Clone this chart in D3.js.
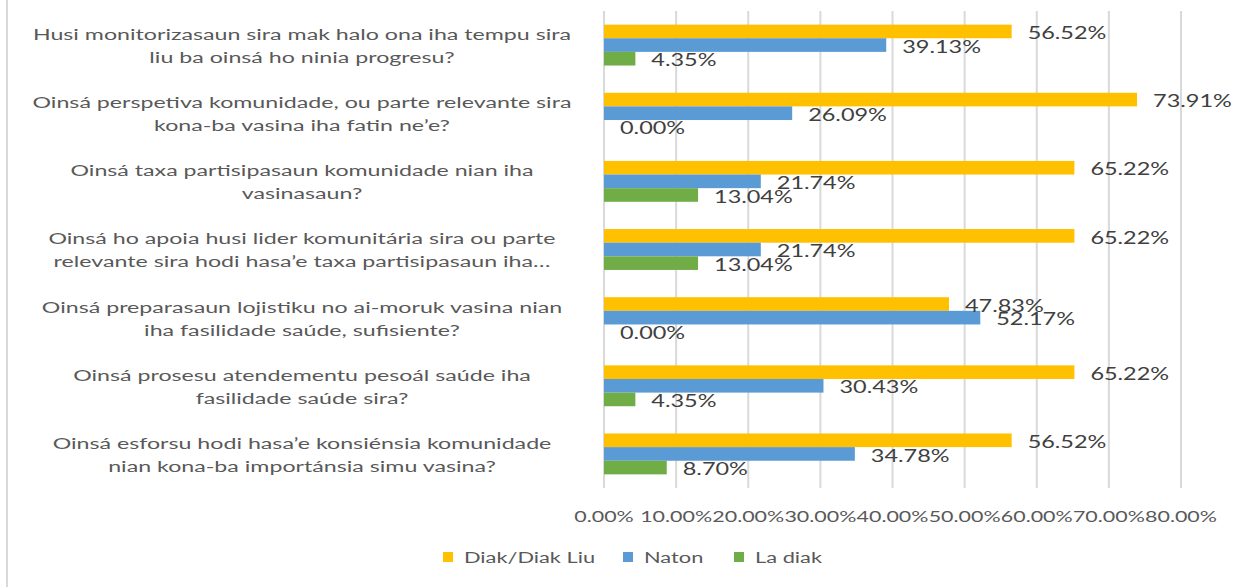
<!DOCTYPE html>
<html>
<head>
<meta charset="utf-8">
<script src="https://cdn.jsdelivr.net/npm/d3@7/dist/d3.min.js"></script>
<style>
  html, body { margin: 0; padding: 0; background: #ffffff; }
  svg { display: block; }
  text { font-family: Lato, "Liberation Sans", sans-serif; }
</style>
</head>
<body>
<svg id="chart" width="1247" height="587"></svg>
<script>
const categories = [
  "Husi monitorizasaun sira mak halo ona iha tempu sira\nliu ba oinsá ho ninia progresu?",
  "Oinsá perspetiva komunidade, ou parte relevante sira\nkona-ba vasina iha fatin ne’e?",
  "Oinsá taxa partisipasaun komunidade nian iha\nvasinasaun?",
  "Oinsá ho apoia husi lider komunitária sira ou parte\nrelevante sira hodi hasa’e taxa partisipasaun iha…",
  "Oinsá preparasaun lojistiku no ai-moruk vasina nian\niha fasilidade saúde, sufisiente?",
  "Oinsá prosesu atendementu pesoál saúde iha\nfasilidade saúde sira?",
  "Oinsá esforsu hodi hasa’e konsiénsia komunidade\nnian kona-ba importánsia simu vasina?"
];
const seriesNames = ["Diak/Diak Liu", "Naton", "La diak"];
const diakValues  = [0.5652, 0.7391, 0.6522, 0.6522, 0.4783, 0.6522, 0.5652];
const natonValues = [0.3913, 0.2609, 0.2174, 0.2174, 0.5217, 0.3043, 0.3478];
const laDiakValues = [0.0435, 0.0000, 0.1304, 0.1304, 0.0000, 0.0435, 0.0870];
const tickValues = [0, 0.1, 0.2, 0.3, 0.4, 0.5, 0.6, 0.7, 0.8];
const colors = ["#FFC000", "#5B9BD5", "#70AD47"];

const allSeries = [diakValues, natonValues, laDiakValues];
const svg = d3.select("#chart");
svg.append("rect").attr("width", 1247).attr("height", 587).attr("fill", "#fff");

const fmt = d3.format(".2%");

function stretchedText(g, x, y, str, opts) {
  return g.append("text")
    .attr("transform", `translate(${x},${y}) scale(${opts.sx},1)`)
    .attr("text-anchor", opts.anchor || "start")
    .attr("dominant-baseline", "central")
    .attr("font-size", opts.size)
    .attr("fill", opts.fill)
    .text(str);
}

// left frame line
svg.append("line").attr("x1", 7).attr("x2", 7).attr("y1", 0).attr("y2", 587)
  .attr("stroke", "#d9d9d9").attr("stroke-width", 2);

const x = d3.scaleLinear().domain([0, 0.8]).range([604, 1181]);
const y = d3.scaleBand().domain(d3.range(categories.length)).range([11, 488])
  .paddingInner(0.4).paddingOuter(0.2);
const ySub = d3.scaleBand().domain(d3.range(seriesNames.length)).range([0, y.bandwidth()]);

// gridlines
svg.append("g").selectAll("line").data(tickValues).join("line")
  .attr("x1", d => x(d)).attr("x2", d => x(d))
  .attr("y1", 11).attr("y2", 488)
  .attr("stroke", "#d9d9d9").attr("stroke-width", 2);

// tick labels
const tg = svg.append("g");
tickValues.forEach(t => stretchedText(tg, x(t), 516, fmt(t), {anchor: "middle", size: 16, sx: 1.34, fill: "#595959"}));

// bars
const bg = svg.append("g");
allSeries.forEach((vals, s) => {
  bg.append("g").selectAll("rect").data(vals).join("rect")
    .attr("x", x(0))
    .attr("y", (d, i) => y(i) + ySub(s))
    .attr("width", d => x(d) - x(0))
    .attr("height", ySub.bandwidth())
    .attr("fill", colors[s]);
});

// data labels
const lg = svg.append("g");
allSeries.forEach((vals, s) => {
  vals.forEach((v, i) => {
    stretchedText(lg, x(v) + 16, y(i) + ySub(s) + ySub.bandwidth() / 2 + 1, fmt(v),
      {anchor: "start", size: 17, sx: 1.38, fill: "#404040"});
  });
});

// category labels
const cg = svg.append("g");
categories.forEach((c, i) => {
  const lines = c.split("\n");
  const cy = y(i) + y.bandwidth() / 2;
  lines.forEach((ln, k) => {
    stretchedText(cg, 302, cy + (k - (lines.length - 1) / 2) * 23, ln,
      {anchor: "middle", size: 16, sx: 1.45, fill: "#595959"});
  });
});

// legend
const legX = [443, 623, 734];
const leg = svg.append("g");
seriesNames.forEach((n, s) => {
  leg.append("rect").attr("x", legX[s]).attr("y", 552).attr("width", 10).attr("height", 10).attr("fill", colors[s]);
  stretchedText(leg, legX[s] + 21, 557, n, {anchor: "start", size: 16, sx: 1.365, fill: "#595959"});
});
</script>
</body>
</html>
